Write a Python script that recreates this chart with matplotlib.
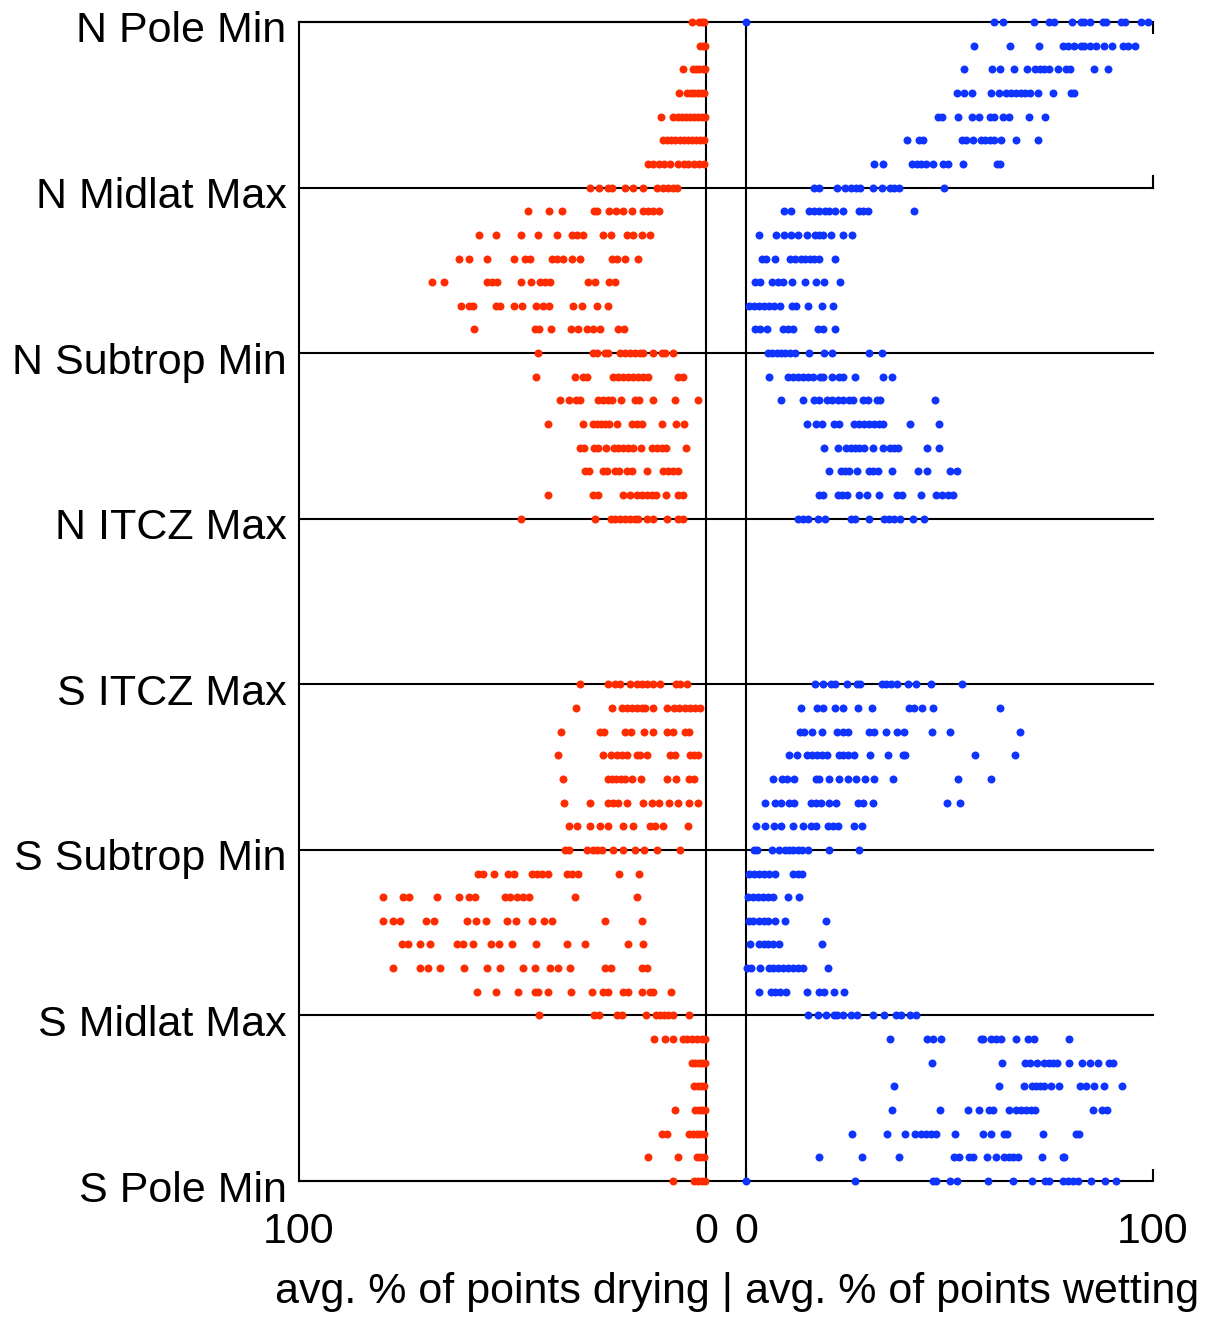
import matplotlib
matplotlib.use("Agg")
import matplotlib.pyplot as plt
from matplotlib.transforms import ScaledTranslation

plt.rcParams["font.family"] = ["Liberation Sans", "DejaVu Sans"]

# Band labels, one every 7 latitude rows (rows 0..49, top to bottom)
band_labels = ["N Pole Min", "N Midlat Max", "N Subtrop Min", "N ITCZ Max",
               "S ITCZ Max", "S Subtrop Min", "S Midlat Max", "S Pole Min"]
band_rows = [0, 7, 14, 21, 28, 35, 42, 49]

# Average % of points drying, per latitude row (one value per model)
dry_rows = [
    [3.5, 1.6, 1.0, 0.4],
    [1.5, 0.8, 0.3],
    [5.6, 3.2, 2.4, 1.6, 0.8, 0.2],
    [6.6, 4.7, 3.8, 2.9, 2.0, 1.2, 0.4],
    [11.1, 8.0, 7.0, 6.0, 5.0, 4.0, 3.0, 2.0, 1.0, 0.3],
    [10.5, 9.5, 8.5, 7.5, 6.5, 5.5, 4.5, 3.5, 2.5, 1.5, 0.6],
    [14.2, 13.0, 11.5, 10.2, 8.9, 6.8, 5.5, 4.3, 3.0, 1.8, 0.5],
    [28.5, 26.2, 24.2, 23.2, 19.9, 17.9, 15.6, 12.0, 10.6, 9.4, 8.2, 7.2],
    [43.7, 38.6, 35.3, 27.5, 26.7, 23.8, 22.1, 20.3, 18.1, 15.4, 14.2, 12.9, 11.5],
    [55.8, 51.6, 45.5, 41.4, 36.7, 33.0, 31.8, 30.3, 25.2, 23.4, 19.5, 18.0, 15.8, 13.8],
    [60.7, 58.3, 53.7, 47.1, 44.5, 43.2, 37.9, 36.7, 35.2, 33.0, 31.0, 23.2, 21.9, 19.9, 16.6],
    [67.2, 64.4, 53.7, 52.5, 51.4, 45.5, 43.1, 40.9, 39.6, 38.3, 28.9, 27.3, 23.8, 22.4],
    [60.3, 58.2, 57.2, 51.6, 50.6, 47.2, 45.3, 41.8, 40.0, 38.5, 32.6, 30.5, 26.9, 24.2],
    [57.1, 42.0, 41.0, 38.1, 33.2, 31.4, 29.3, 27.8, 26.0, 21.5, 20.1],
    [41.4, 27.8, 26.9, 24.8, 24.0, 21.1, 19.9, 18.7, 17.4, 16.2, 15.4, 13.1, 10.9, 10.1, 8.2],
    [41.8, 32.3, 30.3, 29.3, 22.9, 21.5, 20.3, 19.1, 17.9, 16.6, 15.4, 14.2, 6.8, 5.6],
    [35.9, 33.7, 31.9, 31.0, 26.5, 25.2, 24.2, 23.2, 21.0, 17.4, 16.4, 12.9, 7.6, 1.9],
    [38.7, 30.3, 27.8, 26.9, 25.9, 24.8, 23.8, 21.8, 18.3, 17.0, 15.8, 10.9, 7.4, 5.4],
    [31.0, 30.0, 27.5, 26.5, 24.6, 22.6, 21.5, 20.3, 19.1, 17.9, 16.0, 13.3, 12.1, 10.9, 9.8, 4.9],
    [29.7, 28.7, 25.4, 24.4, 22.4, 21.3, 19.5, 18.3, 14.6, 10.5, 9.4, 8.2, 7.0],
    [38.9, 27.8, 26.5, 20.3, 18.7, 17.0, 15.8, 14.6, 13.3, 12.3, 9.8, 7.0, 5.6],
    [45.5, 27.3, 23.4, 22.4, 21.1, 19.9, 18.7, 17.4, 16.6, 14.6, 13.1, 9.5, 6.8, 5.6],
    [], [], [], [], [], [],
    [31.0, 24.2, 22.4, 21.1, 18.7, 17.0, 15.8, 14.6, 13.1, 11.3, 7.4, 6.4, 4.6],
    [32.0, 23.2, 20.7, 19.5, 18.3, 17.0, 15.8, 15.0, 12.9, 9.7, 7.9, 6.6, 5.2, 3.9, 2.7, 1.5],
    [35.7, 26.0, 25.1, 19.9, 18.5, 15.2, 13.1, 9.7, 8.2, 5.2, 4.1],
    [36.4, 25.2, 23.4, 21.9, 20.7, 19.5, 17.0, 16.2, 14.4, 8.8, 7.6, 3.9, 2.9, 1.9],
    [35.2, 24.2, 23.2, 22.1, 21.0, 19.9, 18.3, 16.0, 9.7, 7.4, 4.1, 2.9],
    [34.8, 28.5, 24.0, 22.9, 21.5, 19.5, 15.6, 13.3, 11.5, 9.0, 6.8, 4.1, 1.9],
    [33.6, 31.6, 28.5, 26.0, 24.0, 20.3, 17.9, 13.8, 12.5, 10.5, 4.3],
    [34.6, 33.6, 29.3, 27.8, 26.9, 25.6, 22.8, 20.5, 17.4, 15.2, 12.1, 6.4],
    [55.9, 54.7, 52.1, 48.6, 47.2, 42.8, 41.6, 40.4, 38.9, 34.2, 33.0, 31.4, 21.3, 16.4],
    [79.3, 74.5, 72.9, 66.0, 60.6, 58.3, 56.8, 49.5, 48.2, 46.5, 44.9, 43.4, 32.2, 17.0],
    [79.4, 76.8, 75.2, 68.8, 66.8, 58.8, 56.5, 54.1, 48.8, 46.7, 42.8, 39.8, 37.9, 24.8, 15.8],
    [74.8, 73.1, 70.3, 67.8, 61.1, 59.8, 57.3, 52.9, 50.8, 47.7, 41.8, 34.2, 29.7, 19.2, 15.6],
    [76.8, 70.3, 68.2, 65.4, 59.5, 53.9, 50.6, 45.0, 42.0, 38.3, 36.3, 33.4, 24.8, 23.4, 15.8, 14.6],
    [56.3, 51.7, 46.1, 42.0, 41.2, 38.7, 33.2, 28.1, 25.2, 24.2, 20.5, 19.1, 15.8, 13.8, 12.9, 8.7],
    [41.0, 27.5, 26.2, 21.9, 20.7, 14.7, 12.3, 11.3, 10.3, 9.4, 8.2, 4.1],
    [12.7, 10.1, 8.2, 5.7, 4.6, 3.5, 2.3, 1.0, 0.2],
    [3.5, 2.6, 1.8, 1.0, 0.3],
    [2.9, 2.0, 1.2, 0.4],
    [7.5, 2.7, 1.8, 1.0, 0.3],
    [10.9, 9.6, 4.1, 3.2, 2.3, 1.4, 0.5],
    [14.2, 6.8, 2.3, 1.4, 0.5],
    [8.2, 3.0, 2.0, 1.0, 0.3],
]

# Average % of points wetting, per latitude row (one value per model)
wet_rows = [
    [0.0, 61.0, 63.2, 70.8, 74.5, 75.7, 80.1, 82.3, 83.1, 84.4, 87.6, 88.5, 92.1, 93.2, 97.1, 98.7],
    [55.9, 64.9, 72.1, 77.8, 79.0, 80.7, 82.3, 83.1, 84.4, 86.0, 88.0, 89.9, 92.7, 93.8, 95.7],
    [53.5, 60.4, 62.4, 65.9, 69.0, 71.1, 72.2, 73.3, 74.5, 76.6, 78.6, 79.6, 85.4, 89.0],
    [51.8, 53.5, 55.5, 60.2, 62.1, 64.0, 65.1, 66.3, 67.6, 68.6, 69.8, 71.7, 75.4, 79.9, 80.7],
    [47.1, 48.2, 52.0, 55.5, 57.2, 60.0, 61.0, 63.1, 64.5, 69.6, 73.5],
    [39.5, 42.4, 43.5, 53.1, 54.1, 55.7, 57.7, 58.8, 60.0, 61.0, 62.7, 66.3, 71.8],
    [31.4, 33.6, 40.7, 41.9, 43.0, 44.2, 45.9, 48.5, 49.7, 53.4, 61.7, 62.4],
    [16.8, 17.9, 22.3, 24.4, 25.8, 27.0, 28.0, 31.3, 33.3, 35.4, 36.4, 37.7, 48.7],
    [9.4, 11.1, 15.6, 16.8, 18.0, 19.5, 20.5, 21.9, 23.8, 27.7, 28.7, 29.9, 41.4],
    [3.3, 7.4, 9.4, 11.1, 12.7, 14.9, 17.0, 18.0, 19.0, 20.9, 23.9, 26.0],
    [3.9, 4.9, 7.1, 10.8, 12.1, 13.5, 14.6, 15.7, 16.8, 17.9, 21.9],
    [2.2, 3.4, 6.4, 7.8, 9.0, 11.3, 14.5, 17.2, 19.2, 23.1],
    [0.8, 2.0, 3.3, 4.5, 5.7, 7.0, 8.4, 11.3, 12.3, 15.2, 18.7, 21.3],
    [2.3, 3.4, 5.1, 9.0, 10.2, 11.5, 17.6, 19.0, 21.9],
    [5.3, 6.4, 7.5, 8.6, 9.7, 10.8, 12.1, 15.4, 19.2, 21.1, 30.1, 33.3],
    [5.6, 10.2, 11.5, 12.7, 13.9, 15.2, 16.4, 18.2, 19.0, 21.1, 22.9, 23.9, 26.8, 33.6, 35.9],
    [8.5, 13.9, 16.8, 18.0, 19.8, 21.1, 22.5, 23.9, 25.2, 26.4, 28.7, 29.9, 32.1, 32.9, 46.4],
    [15.0, 17.2, 18.6, 21.7, 22.9, 26.5, 27.7, 28.9, 30.3, 31.5, 32.8, 33.7, 40.3, 47.5],
    [19.2, 22.5, 24.6, 25.8, 26.9, 27.8, 28.9, 31.3, 33.6, 35.4, 36.4, 37.4, 44.4, 47.5],
    [20.3, 23.3, 24.4, 25.4, 27.2, 30.1, 31.3, 32.4, 35.8, 42.3, 44.4, 50.0, 51.8],
    [17.9, 19.0, 22.5, 23.6, 24.7, 27.8, 29.7, 32.8, 37.1, 38.3, 43.0, 46.7, 48.2, 49.6, 50.8],
    [12.7, 13.9, 15.2, 17.6, 19.5, 25.8, 26.9, 30.3, 34.0, 35.2, 36.4, 37.9, 41.0, 43.7],
    [], [], [], [], [], [],
    [17.0, 18.8, 20.9, 21.9, 24.8, 27.2, 28.0, 33.3, 34.4, 35.6, 37.1, 39.7, 41.8, 45.5, 53.1],
    [13.5, 17.4, 18.8, 21.9, 23.9, 27.6, 30.9, 40.0, 41.4, 43.2, 45.9, 62.4],
    [13.3, 14.2, 16.2, 18.6, 22.3, 23.9, 25.0, 30.1, 31.4, 34.4, 37.1, 38.7, 45.7, 50.2, 67.3],
    [10.6, 12.5, 14.9, 16.2, 17.4, 18.7, 19.9, 22.8, 23.9, 25.1, 26.5, 30.5, 35.0, 38.5, 39.1, 56.3, 66.2],
    [6.6, 8.8, 10.0, 11.9, 17.2, 18.0, 20.5, 22.9, 25.0, 27.0, 29.3, 31.4, 36.0, 52.0, 60.2],
    [4.7, 7.2, 8.6, 10.6, 11.9, 16.0, 17.2, 18.4, 20.5, 22.1, 27.4, 28.8, 31.3, 49.3, 52.6],
    [2.5, 4.7, 6.8, 8.6, 11.6, 14.1, 16.0, 17.2, 20.1, 21.3, 22.7, 26.6, 28.5],
    [2.0, 2.6, 6.4, 8.0, 9.7, 10.6, 11.5, 12.7, 13.8, 15.2, 20.5, 27.8],
    [0.8, 2.0, 3.3, 4.5, 5.7, 7.2, 11.5, 12.7, 13.7],
    [0.4, 1.6, 2.9, 4.1, 5.3, 6.7, 10.2, 12.9],
    [0.7, 1.8, 3.1, 4.3, 5.5, 7.2, 9.7, 19.7],
    [1.0, 3.1, 4.3, 5.5, 6.7, 8.2, 18.6],
    [0.2, 1.2, 3.4, 5.6, 6.7, 7.9, 9.2, 10.4, 11.5, 12.7, 13.9, 20.2],
    [3.3, 6.1, 7.2, 8.3, 9.8, 14.9, 18.0, 19.1, 21.5, 24.2],
    [15.2, 17.6, 19.7, 21.7, 22.3, 23.9, 25.8, 27.2, 31.1, 34.0, 36.9, 38.1, 40.3, 41.8],
    [35.4, 44.4, 46.0, 47.9, 57.7, 58.3, 60.3, 61.4, 62.7, 66.3, 69.2, 70.8, 79.4],
    [45.6, 62.8, 68.6, 69.8, 71.5, 73.3, 74.4, 75.4, 76.4, 79.3, 82.6, 84.6, 86.6, 89.3, 90.2],
    [36.4, 62.2, 68.4, 70.3, 71.3, 72.2, 73.3, 74.9, 76.8, 82.1, 83.5, 85.6, 87.9, 92.3],
    [35.8, 47.7, 54.5, 57.2, 59.8, 60.8, 64.7, 66.3, 67.6, 68.8, 70.0, 71.0, 85.2, 87.4, 88.7],
    [26.0, 34.6, 39.1, 41.6, 43.0, 44.2, 45.4, 46.7, 51.4, 58.3, 60.2, 63.5, 64.1, 73.0, 81.1, 81.9],
    [18.0, 28.4, 37.5, 51.2, 52.3, 54.9, 55.8, 59.1, 61.4, 63.5, 64.5, 65.5, 66.8, 72.7, 77.8, 78.2],
    [0.0, 26.8, 45.9, 46.7, 50.0, 51.8, 59.5, 65.7, 70.3, 73.5, 74.4, 78.0, 79.0, 80.3, 81.5, 84.8, 88.3, 90.9],
]

DRY_COLOR = "#ff2c00"
WET_COLOR = "#1034ff"
FS = 31

W, H = 1206, 1317
fig = plt.figure(figsize=(W / 100, H / 100), dpi=100)
bottom = (H - 1181) / H
height = 1159 / H
ax_dry = fig.add_axes([299 / W, bottom, 407 / W, height])
ax_wet = fig.add_axes([746 / W, bottom, 407 / W, height])
for ax in (ax_dry, ax_wet):
    ax.patch.set_visible(False)


def scatter_rows(ax, rows, color):
    for r, vals in enumerate(rows):
        if vals:
            ax.scatter(vals, [r] * len(vals), s=33, color=color, linewidths=0,
                       zorder=3, clip_on=False)


scatter_rows(ax_dry, dry_rows, DRY_COLOR)
scatter_rows(ax_wet, wet_rows, WET_COLOR)

for ax in (ax_dry, ax_wet):
    ax.set_ylim(49, 0)
    for sp in ax.spines.values():
        sp.set_linewidth(1.5)
    ax.tick_params(length=0, labelsize=FS, pad=22)
    ax.set_yticks(band_rows)

# Band boundaries run continuously across both panels and the gap between them
span = (1153 - 299) / 407
for r in band_rows:
    ax_dry.axhline(r, xmin=0, xmax=span, color="black", lw=1.5, zorder=2,
                   clip_on=False)

ax_dry.set_xlim(100, 0)
ax_dry.set_xticks([100, 0])
ax_dry.set_xticklabels(["100", "0"])
ax_dry.set_yticklabels(band_labels)
ax_dry.tick_params(axis="y", pad=9)
shift_down = ScaledTranslation(0, -5 / 100, fig.dpi_scale_trans)
for lbl in ax_dry.get_yticklabels():
    lbl.set_transform(lbl.get_transform() + shift_down)

ax_wet.set_xlim(0, 100)
ax_wet.set_xticks([0, 100])
ax_wet.set_xticklabels(["0", "100"])
ax_wet.set_yticklabels([])
ax_wet.spines["right"].set_visible(False)
ax_wet.spines["top"].set_visible(False)
ax_wet.spines["bottom"].set_visible(False)
ax_wet.tick_params(axis="x", top=True, bottom=True, direction="in",
                   length=8.6, width=1.5)
ax_wet.plot([100, 100], [7 - 0.5, 7], color="black", lw=1.5, clip_on=False,
            zorder=2)

fig.text(737 / W, 1 - 1292 / H, "avg. % of points drying | avg. % of points wetting",
         ha="center", va="center", fontsize=FS)

fig.savefig("out.png", dpi=100)
